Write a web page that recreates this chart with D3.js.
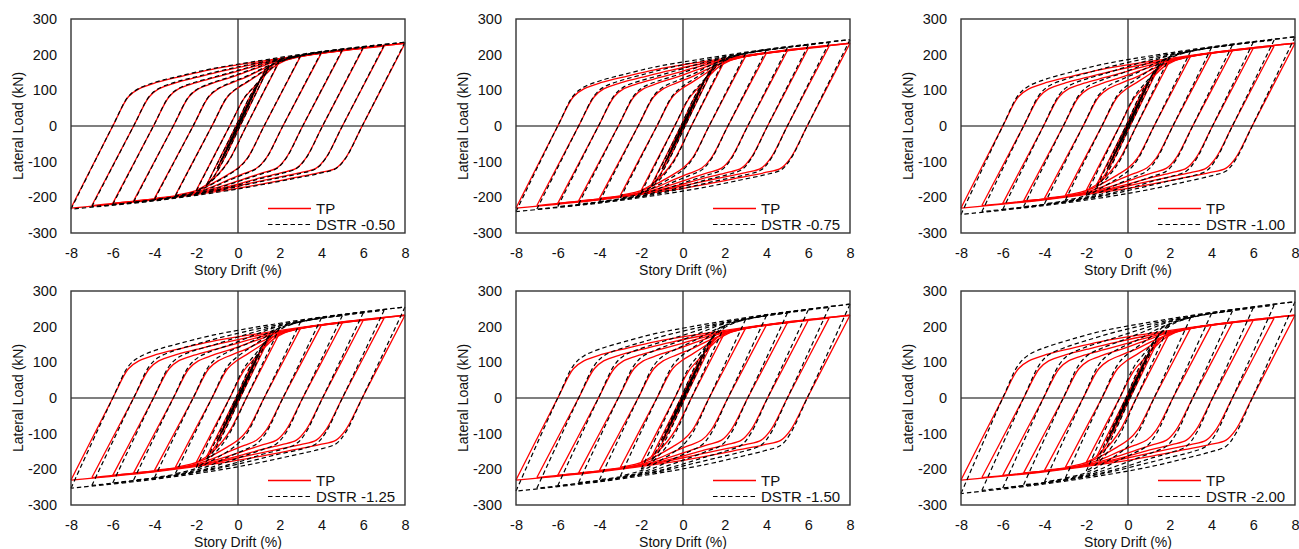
<!DOCTYPE html>
<html>
<head>
<meta charset="utf-8">
<script src="https://cdn.jsdelivr.net/npm/d3@7"></script>
<style>
  body { margin: 0; background: #fff; }
  svg { display: block; }
</style>
</head>
<body>
<svg id="chart" width="1299" height="549"></svg>
<script>
// ---- axis ticks & labels ----
const xTicks = [-8, -6, -4, -2, 0, 2, 4, 6, 8];
const yTicks = [-300, -200, -100, 0, 100, 200, 300];
const dstrLabels = ["DSTR -0.50", "DSTR -0.75", "DSTR -1.00", "DSTR -1.25", "DSTR -1.50", "DSTR -2.00"];

// ---- drift (%) of the key points of every half-cycle branch ----
const branchDrift = [
  [0, 0.375],
  [0.375, 0, -0.375],
  [-0.375, 0, 0.5],
  [0.5, 0, -0.5],
  [-0.5, 0, 0.75],
  [0.75, 0.02, -0.75],
  [-0.75, -0.02, 0.8, 1.0],
  [1.0, 0.05, -0.8, -1.0],
  [-1.0, -0.05, 0.9, 1.2, 1.5],
  [1.5, 0.1, -0.6, -0.95, -1.2, -1.5],
  [-1.5, -0.1, 0.55, 0.95, 1.3, 1.65, 2],
  [2, 0.4, -0.35, -0.75, -1.15, -1.55, -2],
  [-2, -0.4, 0.3, 0.75, 1.2, 1.65, 2.2, 3],
  [3, 1.25, 0.45, 0.0, -0.5, -1.2, -1.8, -2.3, -3],
  [-3, -1.25, -0.5, -0.05, 0.5, 1.1, 1.7, 2.4, 3.2, 4],
  [4, 2.15, 1.35, 0.9, 0.3, -0.5, -1.3, -2.2, -3.1, -4],
  [-4, -2.15, -1.4, -0.95, -0.3, 0.5, 1.3, 2.2, 3.5, 5],
  [5, 3.1, 2.3, 1.85, 1.2, 0.3, -0.7, -1.8, -3.3, -5],
  [-5, -3.1, -2.35, -1.9, -1.2, -0.3, 0.8, 2.0, 3.8, 6],
  [6, 4.05, 3.25, 2.8, 2.1, 1.1, 0, -1.4, -3.5, -6],
  [-6, -4.05, -3.3, -2.85, -2.1, -1.1, 0, 1.5, 3.8, 7],
  [7, 5.0, 4.2, 3.75, 3.0, 1.9, 0.6, -1.2, -3.8, -7],
  [-7, -5.0, -4.25, -3.8, -3.0, -2.0, -0.6, 1.2, 4, 8],
  [8, 5.95, 5.15, 4.7, 3.9, 2.7, 1.2, -0.8, -4, -8],
  [-8, -6.0, -5.25, -4.75, -3.9, -2.8, -1.3, 0.6, 4, 8]
];

// ---- lateral load (kN): test specimen TP ----
const loadTP = [
  [0, 47], [47, -2, -46], [-46, 2, 62], [62, -3, -61], [-61, 3, 93], [93, 0, -92],
  [-92, 0, 100, 122], [122, 0, -98, -120],
  [-120, 0, 112, 145, 168],
  [168, 0, -85, -122, -145, -164],
  [-164, 0, 80, 118, 148, 170, 183],
  [183, 0, -88, -122, -147, -166, -180],
  [-180, 0, 78, 108, 137, 163, 182, 196],
  [196, 0, -90, -118, -137, -160, -177, -186, -194],
  [-194, 0, 82, 105, 125, 148, 172, 188, 198, 205],
  [205, 0, -90, -118, -133, -152, -172, -188, -197, -203],
  [-203, 0, 82, 104, 121, 140, 163, 183, 200, 211],
  [211, 0, -90, -118, -131, -148, -167, -185, -200, -210],
  [-210, 0, 82, 104, 120, 137, 160, 184, 203, 218],
  [218, 0, -90, -118, -131, -145, -163, -182, -201, -217],
  [-217, 0, 82, 104, 120, 136, 154, 178, 202, 224],
  [224, 0, -90, -118, -131, -144, -160, -182, -204, -223],
  [-223, 0, 82, 104, 121, 136, 156, 178, 205, 232],
  [232, 0, -90, -118, -131, -145, -162, -182, -207, -230],
  [-230, 0, 82, 104, 122, 138, 158, 177, 206, 232]
];

// ---- lateral load (kN): DSTR models ----
const loadDSTR050 = [
  [0, 47], [47, -2, -46], [-46, 2, 62], [62, -3, -61], [-61, 3, 93], [93, 0, -92],
  [-92, 0, 100, 122], [122, 0, -98, -120],
  [-120, 0, 112, 146, 169],
  [169, 0, -85, -123, -146, -165],
  [-165, 0, 81, 119, 149, 172, 185],
  [185, 0, -89, -123, -148, -168, -182],
  [-182, 0, 79, 109, 139, 165, 184, 198],
  [198, 0, -91, -119, -139, -162, -179, -188, -196],
  [-196, 0, 83, 106, 127, 150, 174, 190, 200, 208],
  [208, 0, -91, -119, -135, -154, -174, -190, -199, -206],
  [-206, 0, 83, 105, 123, 142, 165, 185, 202, 214],
  [214, 0, -91, -119, -133, -150, -169, -187, -202, -213],
  [-213, 0, 83, 105, 122, 139, 162, 186, 206, 221],
  [221, 0, -91, -119, -133, -147, -165, -184, -204, -220],
  [-220, 0, 83, 105, 122, 138, 156, 180, 205, 227],
  [227, 0, -91, -119, -133, -146, -162, -184, -207, -226],
  [-226, 0, 83, 105, 123, 138, 158, 180, 208, 235],
  [235, 0, -91, -119, -133, -147, -164, -184, -210, -233],
  [-233, 0, 83, 105, 124, 140, 160, 179, 209, 235]
];

const loadDSTR075 = [
  [0, 47], [47, -2, -46], [-46, 2, 62], [62, -3, -61], [-61, 3, 93], [93, 0, -92],
  [-92, 0, 100, 123], [123, 0, -98, -121],
  [-121, 0, 113, 147, 172],
  [172, 0, -87, -125, -148, -168],
  [-168, 0, 82, 121, 152, 175, 190],
  [190, 0, -91, -126, -152, -172, -187],
  [-187, 0, 81, 112, 142, 169, 189, 204],
  [204, 0, -93, -123, -143, -166, -184, -194, -202],
  [-202, 0, 85, 110, 131, 154, 179, 196, 206, 214],
  [214, 0, -93, -123, -139, -158, -179, -196, -205, -212],
  [-212, 0, 85, 109, 127, 146, 170, 191, 208, 220],
  [220, 0, -93, -123, -137, -154, -174, -193, -208, -219],
  [-219, 0, 85, 109, 126, 143, 167, 192, 212, 227],
  [227, 0, -93, -123, -137, -151, -170, -190, -210, -226],
  [-226, 0, 85, 109, 126, 142, 161, 186, 211, 234],
  [234, 0, -93, -123, -137, -150, -167, -190, -213, -233],
  [-233, 0, 85, 109, 127, 143, 164, 186, 214, 242],
  [242, 0, -93, -123, -137, -152, -170, -190, -216, -240],
  [-240, 0, 85, 109, 128, 145, 166, 185, 215, 242]
];

const loadDSTR100 = [
  [0, 47], [47, -2, -46], [-46, 2, 62], [62, -3, -61], [-61, 3, 93], [93, 0, -92],
  [-92, 0, 101, 124], [124, 0, -99, -122],
  [-122, 0, 114, 149, 174],
  [174, 0, -88, -127, -150, -170],
  [-170, 0, 84, 123, 155, 179, 195],
  [195, 0, -93, -128, -155, -176, -192],
  [-192, 0, 83, 115, 146, 174, 195, 210],
  [210, 0, -95, -126, -147, -171, -190, -200, -208],
  [-208, 0, 87, 113, 135, 159, 185, 202, 212, 220],
  [220, 0, -95, -126, -143, -163, -185, -202, -211, -218],
  [-218, 0, 87, 112, 131, 151, 176, 197, 215, 227],
  [227, 0, -95, -126, -141, -159, -180, -199, -215, -226],
  [-226, 0, 87, 112, 130, 148, 173, 198, 218, 235],
  [235, 0, -95, -126, -141, -156, -176, -196, -216, -234],
  [-234, 0, 87, 112, 130, 147, 167, 192, 218, 241],
  [241, 0, -95, -126, -141, -155, -173, -196, -220, -240],
  [-240, 0, 87, 112, 131, 148, 170, 193, 221, 250],
  [250, 0, -95, -126, -141, -157, -176, -197, -223, -248],
  [-248, 0, 87, 112, 132, 150, 172, 192, 222, 250]
];

const loadDSTR125 = [
  [0, 47], [47, -2, -46], [-46, 2, 62], [62, -3, -61], [-61, 3, 93], [93, 0, -92],
  [-92, 0, 101, 124], [124, 0, -99, -122],
  [-122, 0, 114, 150, 176],
  [176, 0, -88, -128, -152, -172],
  [-172, 0, 85, 125, 157, 182, 198],
  [198, 0, -94, -130, -157, -179, -195],
  [-195, 0, 85, 117, 149, 177, 198, 214],
  [214, 0, -97, -128, -150, -174, -193, -203, -212],
  [-212, 0, 89, 115, 138, 162, 188, 205, 216, 225],
  [225, 0, -97, -128, -146, -166, -188, -205, -215, -223],
  [-223, 0, 89, 114, 134, 154, 179, 201, 219, 231],
  [231, 0, -97, -128, -144, -162, -183, -203, -219, -230],
  [-230, 0, 89, 114, 133, 151, 177, 202, 223, 239],
  [239, 0, -97, -128, -144, -159, -180, -200, -221, -238],
  [-238, 0, 89, 114, 133, 150, 171, 196, 222, 246],
  [246, 0, -97, -128, -144, -158, -177, -200, -224, -245],
  [-245, 0, 89, 114, 134, 151, 173, 197, 226, 255],
  [255, 0, -97, -128, -144, -160, -179, -201, -228, -253],
  [-253, 0, 89, 114, 135, 153, 175, 196, 227, 255]
];

const loadDSTR150 = [
  [0, 47], [47, -2, -46], [-46, 2, 62], [62, -3, -61], [-61, 3, 93], [93, 0, -92],
  [-92, 0, 101, 125], [125, 0, -100, -123],
  [-123, 0, 115, 151, 179],
  [179, 0, -90, -130, -154, -175],
  [-175, 0, 86, 127, 160, 186, 203],
  [203, 0, -96, -133, -161, -183, -200],
  [-200, 0, 87, 120, 153, 182, 204, 221],
  [221, 0, -99, -132, -154, -179, -199, -209, -219],
  [-219, 0, 91, 119, 142, 167, 194, 212, 223, 231],
  [231, 0, -99, -132, -150, -172, -194, -212, -222, -229],
  [-229, 0, 91, 118, 138, 160, 185, 207, 226, 238],
  [238, 0, -99, -132, -148, -168, -189, -209, -226, -237],
  [-237, 0, 91, 118, 137, 157, 182, 209, 230, 247],
  [247, 0, -99, -132, -148, -165, -185, -207, -228, -246],
  [-246, 0, 91, 118, 137, 156, 176, 203, 229, 254],
  [254, 0, -99, -132, -148, -164, -182, -207, -231, -253],
  [-253, 0, 91, 118, 138, 156, 179, 203, 233, 263],
  [263, 0, -99, -132, -148, -165, -185, -207, -235, -261],
  [-261, 0, 91, 118, 139, 158, 181, 202, 234, 263]
];

const loadDSTR200 = [
  [0, 47], [47, -2, -46], [-46, 2, 62], [62, -3, -61], [-61, 3, 93], [93, 0, -92],
  [-92, 0, 102, 126], [126, 0, -101, -124],
  [-124, 0, 116, 153, 181],
  [181, 0, -91, -132, -156, -177],
  [-177, 0, 88, 129, 163, 189, 208],
  [208, 0, -98, -135, -164, -187, -205],
  [-205, 0, 89, 123, 156, 186, 209, 226],
  [226, 0, -101, -135, -158, -184, -204, -215, -224],
  [-224, 0, 93, 122, 146, 172, 199, 217, 228, 237],
  [237, 0, -101, -135, -154, -176, -199, -217, -227, -235],
  [-235, 0, 93, 121, 142, 164, 190, 212, 232, 244],
  [244, 0, -101, -135, -152, -172, -194, -214, -232, -243],
  [-243, 0, 93, 121, 141, 161, 187, 214, 236, 253],
  [253, 0, -101, -135, -152, -169, -190, -212, -234, -252],
  [-252, 0, 93, 121, 141, 160, 181, 208, 235, 260],
  [260, 0, -101, -135, -152, -168, -187, -212, -237, -259],
  [-259, 0, 93, 121, 142, 161, 185, 209, 239, 270],
  [270, 0, -101, -135, -152, -170, -191, -213, -241, -268],
  [-268, 0, 93, 121, 143, 163, 187, 208, 240, 270]
];

const dstrLoads = [loadDSTR050, loadDSTR075, loadDSTR100, loadDSTR125, loadDSTR150, loadDSTR200];

// ---- layout ----
const panelLeft = [71, 516, 961];
const panelTop = [19, 291];
const plotW = 334, plotH = 214;
const FONT = "'Liberation Sans', Arial, Helvetica, sans-serif";

const svg = d3.select("#chart");
svg.append("rect").attr("width", 1299).attr("height", 549).attr("fill", "#fff");

const x = d3.scaleLinear().domain([-8, 8]).range([0, plotW]);
const y = d3.scaleLinear().domain([-300, 300]).range([plotH, 0]);

const curve = d3.line()
  .x(p => x(p[0]))
  .y(p => y(p[1]))
  .curve(d3.curveCatmullRom.alpha(0.5));

// tick labels use a plain hyphen for negatives
const plainFormat = d => String(d);

function toBranches(loads) {
  return branchDrift.map((ds, i) => ds.map((d, j) => [d, loads[i][j]]));
}

dstrLabels.forEach((label, k) => {
  const col = k % 3, row = Math.floor(k / 3);
  const g = svg.append("g")
    .attr("transform", `translate(${panelLeft[col]},${panelTop[row]})`);

  // zero reference lines
  g.append("line")
    .attr("x1", 0).attr("x2", plotW).attr("y1", y(0)).attr("y2", y(0))
    .attr("stroke", "#000").attr("stroke-width", 1.1);
  g.append("line")
    .attr("x1", x(0)).attr("x2", x(0)).attr("y1", 0).attr("y2", plotH)
    .attr("stroke", "#000").attr("stroke-width", 1.1);

  // test hysteresis (red, solid)
  g.append("g").selectAll("path")
    .data(toBranches(loadTP))
    .join("path")
    .attr("d", curve)
    .attr("fill", "none")
    .attr("stroke", "#ff0000")
    .attr("stroke-width", 1.3)
    .attr("stroke-linejoin", "round");

  // model hysteresis (black, dashed)
  g.append("g").selectAll("path")
    .data(toBranches(dstrLoads[k]))
    .join("path")
    .attr("d", curve)
    .attr("fill", "none")
    .attr("stroke", "#000")
    .attr("stroke-width", 1.2)
    .attr("stroke-dasharray", "4.5,3");

  // plot frame
  g.append("rect")
    .attr("width", plotW).attr("height", plotH)
    .attr("fill", "none").attr("stroke", "#333").attr("stroke-width", 1.4);

  // axes
  const ax = g.append("g")
    .attr("transform", `translate(0,${plotH})`)
    .call(d3.axisBottom(x).tickValues(xTicks).tickSize(0).tickPadding(14.5)
      .tickFormat(plainFormat));
  ax.select(".domain").remove();
  ax.selectAll("text").attr("font-family", FONT).attr("font-size", 14.5).attr("fill", "#111");

  const ay = g.append("g")
    .call(d3.axisLeft(y).tickValues(yTicks).tickSize(0).tickPadding(14)
      .tickFormat(plainFormat));
  ay.select(".domain").remove();
  ay.selectAll("text").attr("font-family", FONT).attr("font-size", 14.5).attr("fill", "#111");

  // axis titles
  g.append("text")
    .attr("x", plotW / 2).attr("y", plotH + 41.5)
    .attr("text-anchor", "middle")
    .attr("font-family", FONT).attr("font-size", 14).attr("fill", "#111")
    .text("Story Drift (%)");
  g.append("text")
    .attr("transform", `translate(-53,${plotH / 2}) rotate(-90)`)
    .attr("text-anchor", "middle")
    .attr("dy", "0.35em")
    .attr("font-family", FONT).attr("font-size", 14).attr("fill", "#111")
    .text("Lateral Load (kN)");

  // legend
  const lg = g.append("g");
  lg.append("line")
    .attr("x1", 197).attr("x2", 240).attr("y1", 189.5).attr("y2", 189.5)
    .attr("stroke", "#ff0000").attr("stroke-width", 1.3);
  lg.append("text")
    .attr("x", 245).attr("y", 194.5)
    .attr("font-family", FONT).attr("font-size", 15).attr("fill", "#111")
    .text("TP");
  lg.append("line")
    .attr("x1", 197).attr("x2", 240).attr("y1", 205.5).attr("y2", 205.5)
    .attr("stroke", "#000").attr("stroke-width", 1.2).attr("stroke-dasharray", "4.5,3");
  lg.append("text")
    .attr("x", 245).attr("y", 211)
    .attr("font-family", FONT).attr("font-size", 15).attr("fill", "#111")
    .text(label);
});
</script>
</body>
</html>
